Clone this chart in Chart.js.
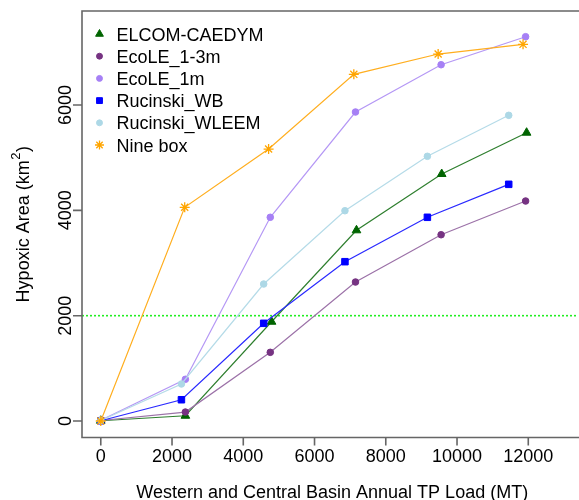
<!DOCTYPE html>
<html>
<head>
<meta charset="utf-8">
<script src="https://cdn.jsdelivr.net/npm/chart.js@4.4.1/dist/chart.umd.min.js"></script>
<style>
  html, body { margin: 0; padding: 0; background: #ffffff; }
  #wrap { width: 579px; height: 500px; }
</style>
</head>
<body>
<div id="wrap"><canvas id="c" width="579" height="500"></canvas></div>
<script>
// ---- data ----
const seriesNames = ["ELCOM-CAEDYM", "EcoLE_1-3m", "EcoLE_1m", "Rucinski_WB", "Rucinski_WLEEM", "Nine box"];
const elcomX   = [0, 2375, 4794, 7178, 9570, 11953];
const elcomY   = [5, 100, 1885, 3621, 4690, 5474];
const ecole13X = [0, 2375, 4758, 7150, 9553, 11925];
const ecole13Y = [10, 170, 1304, 2639, 3537, 4177];
const ecole1X  = [0, 2375, 4758, 7150, 9553, 11925];
const ecole1Y  = [15, 792, 3868, 5867, 6765, 7297];
const rucWBX   = [0, 2264, 4573, 6854, 9168, 11451];
const rucWBY   = [5, 404, 1855, 3025, 3868, 4494];
const rucWLX   = [0, 2264, 4573, 6854, 9168, 11451];
const rucWLY   = [10, 703, 2601, 3993, 5026, 5804];
const nineX    = [0, 2356, 4711, 7103, 9470, 11853];
const nineY    = [0, 4058, 5164, 6583, 6968, 7152];
const xTicks = [0, 2000, 4000, 6000, 8000, 10000, 12000];
const yTicks = [0, 2000, 4000, 6000];
const threshold = 2000;
const xTitle = "Western and Central Basin Annual TP Load (MT)";
const yTitleMain = "Hypoxic Area (km";
const yTitleSup = "2";
const yTitleEnd = ")";

const markerColors = ["#006400", "#763382", "#a680f5", "#0000ff", "#add8e6", "#ffa500"];
const lineColors   = ["#2f7f2f", "#9c72a8", "#b598f5", "#2a2aff", "#b5dbe8", "#ffae1f"];
const pointStyles  = ["triangle", "circle", "circle", "rect", "circle", "star"];
const pointRadii   = [5, 3.3, 3.3, 4.6, 3.3, 5];

const xs = [elcomX, ecole13X, ecole1X, rucWBX, rucWLX, nineX];
const ys = [elcomY, ecole13Y, ecole1Y, rucWBY, rucWLY, nineY];

const FONT = '"Liberation Sans", Arial, Helvetica, sans-serif';
const AXIS_COLOR = '#666666';

const datasets = seriesNames.map((name, i) => ({
  label: name,
  data: xs[i].map((x, k) => ({ x: x, y: ys[i][k] })),
  showLine: true,
  borderColor: lineColors[i],
  borderWidth: 1.2,
  backgroundColor: markerColors[i],
  pointBackgroundColor: markerColors[i],
  pointBorderColor: markerColors[i],
  pointBorderWidth: pointStyles[i] === 'star' ? 1.3 : 1,
  pointStyle: pointStyles[i],
  pointRadius: pointRadii[i],
  pointHoverRadius: pointRadii[i],
  tension: 0,
  order: seriesNames.length - i
}));

const decor = {
  id: 'decor',
  beforeDatasetsDraw(chart) {
    const ctx = chart.ctx;
    const a = chart.chartArea;
    const ysc = chart.scales.y;
    const yy = ysc.getPixelForValue(threshold);
    ctx.save();
    ctx.strokeStyle = '#22ee22';
    ctx.lineWidth = 1.6;
    ctx.setLineDash([2, 2]);
    ctx.beginPath();
    ctx.moveTo(a.left, yy);
    ctx.lineTo(a.right + 5, yy);
    ctx.stroke();
    ctx.restore();
  },
  afterDraw(chart) {
    const ctx = chart.ctx;
    const a = chart.chartArea;
    const xsc = chart.scales.x, ysc = chart.scales.y;
    ctx.save();
    // box (right side lies beyond the canvas)
    ctx.strokeStyle = AXIS_COLOR;
    ctx.lineWidth = 1.6;
    ctx.beginPath();
    ctx.moveTo(a.right + 10, a.top);
    ctx.lineTo(a.left, a.top);
    ctx.lineTo(a.left, a.bottom);
    ctx.lineTo(a.right + 10, a.bottom);
    ctx.stroke();
    // ticks
    ctx.beginPath();
    xTicks.forEach(v => {
      const px = xsc.getPixelForValue(v);
      ctx.moveTo(px, a.bottom);
      ctx.lineTo(px, a.bottom + 8);
    });
    yTicks.forEach(v => {
      const py = ysc.getPixelForValue(v);
      ctx.moveTo(a.left, py);
      ctx.lineTo(a.left - 9, py);
    });
    ctx.stroke();
    // tick labels
    ctx.fillStyle = '#000000';
    ctx.font = '18px ' + FONT;
    ctx.textAlign = 'center';
    ctx.textBaseline = 'alphabetic';
    xTicks.forEach(v => {
      ctx.fillText(String(v), xsc.getPixelForValue(v), 462);
    });
    yTicks.forEach(v => {
      const py = ysc.getPixelForValue(v);
      ctx.save();
      ctx.translate(70.5, py);
      ctx.rotate(-Math.PI / 2);
      ctx.fillText(String(v), 0, 0);
      ctx.restore();
    });
    // axis titles
    const xMid = (xsc.getValueForPixel(a.left) + 13520) / 2;
    ctx.fillText(xTitle, xsc.getPixelForValue(xMid), 498);
    // y title with superscript
    ctx.save();
    ctx.translate(28.5, (a.top + a.bottom) / 2);
    ctx.rotate(-Math.PI / 2);
    ctx.textAlign = 'left';
    const mainFont = '18px ' + FONT, supFont = '13px ' + FONT;
    ctx.font = mainFont;
    const w1 = ctx.measureText(yTitleMain).width;
    const w3 = ctx.measureText(yTitleEnd).width;
    ctx.font = supFont;
    const w2 = ctx.measureText(yTitleSup).width;
    const total = w1 + w2 + w3 + 1;
    let x0 = -total / 2;
    ctx.font = mainFont;
    ctx.fillText(yTitleMain, x0, 0);
    ctx.font = supFont;
    ctx.fillText(yTitleSup, x0 + w1 + 0.5, -9);
    ctx.font = mainFont;
    ctx.fillText(yTitleEnd, x0 + w1 + w2 + 1, 0);
    ctx.restore();
    // legend
    ctx.font = '18px ' + FONT;
    ctx.textAlign = 'left';
    const rowY0 = 34, rowStep = 22.2;
    chart.data.datasets.forEach((ds, i) => {
      const cy = rowY0 + i * rowStep;
      ctx.fillStyle = ds.pointBackgroundColor;
      ctx.strokeStyle = ds.pointBorderColor;
      ctx.lineWidth = ds.pointBorderWidth;
      if (Chart.helpers && Chart.helpers.drawPoint) {
        Chart.helpers.drawPoint(ctx, {
          pointStyle: ds.pointStyle,
          radius: ds.pointRadius * 0.9,
          rotation: 0,
          borderWidth: ds.pointBorderWidth
        }, 99.5, cy);
      }
      ctx.fillStyle = '#000000';
      ctx.fillText(ds.label, 116.5, cy + 6.6);
    });
    ctx.restore();
  }
};

new Chart(document.getElementById('c'), {
  type: 'scatter',
  data: { datasets: datasets },
  options: {
    responsive: false,
    animation: false,
    devicePixelRatio: 1,
    layout: { padding: { left: 82, top: 11, right: 0, bottom: 62.5 } },
    plugins: {
      legend: { display: false },
      tooltip: { enabled: false }
    },
    scales: {
      x: {
        type: 'linear',
        display: false,
        min: -527,
        max: 13247
      },
      y: {
        type: 'linear',
        display: false,
        min: -313,
        max: 7785
      }
    }
  },
  plugins: [decor]
});
</script>
</body>
</html>
